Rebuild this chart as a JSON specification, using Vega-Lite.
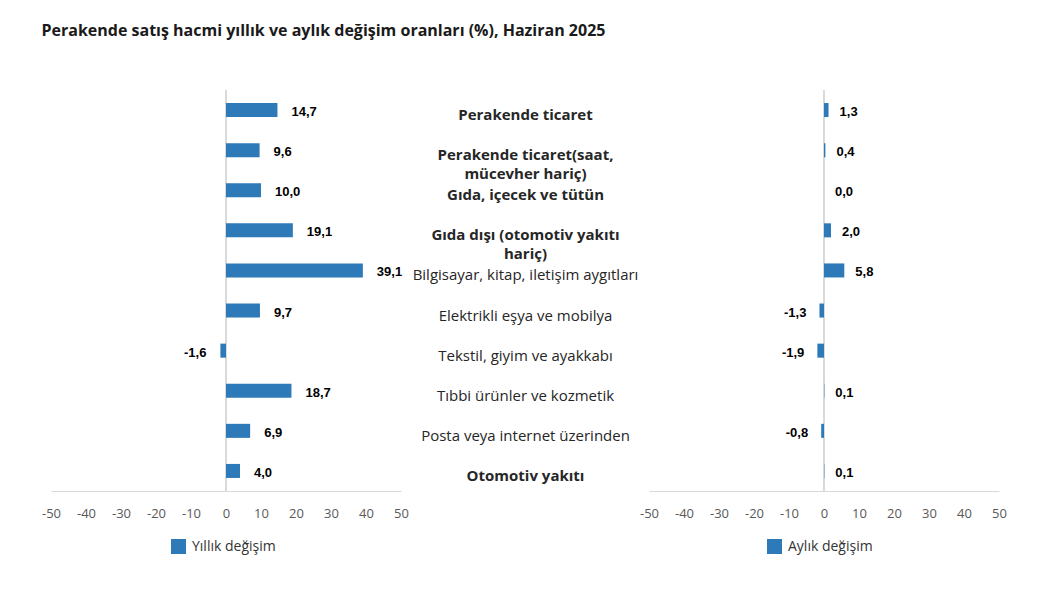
{
  "$schema": "https://vega.github.io/schema/vega-lite/v6.json",
  "padding": {"left": 41, "top": 22, "right": 20, "bottom": 10},
  "background": "white",
  "title": {"text": "Perakende satış hacmi yıllık ve aylık değişim oranları (%), Haziran 2025", "anchor": "start", "fontSize": 16, "font": "Open Sans", "fontWeight": "bold", "color": "#1a1a1a", "offset": 51},
  "data": {"values": [
    {"kategori": "Perakende ticaret", "yillik": 14.7, "aylik": 1.3},
    {"kategori": "Perakende ticaret(saat, mücevher hariç)", "yillik": 9.6, "aylik": 0.4},
    {"kategori": "Gıda, içecek ve tütün", "yillik": 10.0, "aylik": 0.0},
    {"kategori": "Gıda dışı (otomotiv yakıtı hariç)", "yillik": 19.1, "aylik": 2.0},
    {"kategori": "Bilgisayar, kitap, iletişim aygıtları", "yillik": 39.1, "aylik": 5.8},
    {"kategori": "Elektrikli eşya ve mobilya", "yillik": 9.7, "aylik": -1.3},
    {"kategori": "Tekstil, giyim ve ayakkabı", "yillik": -1.6, "aylik": -1.9},
    {"kategori": "Tıbbi ürünler ve kozmetik", "yillik": 18.7, "aylik": 0.1},
    {"kategori": "Posta veya internet üzerinden", "yillik": 6.9, "aylik": -0.8},
    {"kategori": "Otomotiv yakıtı", "yillik": 4.0, "aylik": 0.1}
  ]},
  "spacing": 248,
  "bounds": "flush",
  "resolve": {"scale": {"color": "independent", "x": "independent"}, "legend": {"color": "independent"}},
  "hconcat": [
    {
      "width": 350,
      "height": 401,
      "layer": [
        {
          "mark": {"type": "rule", "color": "#d9d9d9", "strokeWidth": 1},
          "encoding": {"x": {"datum": 0, "type": "quantitative", "scale": {"domain": [-50, 50], "nice": false},
              "axis": {"title": null, "values": [-50, -40, -30, -20, -10, 0, 10, 20, 30, 40, 50], "tickCount": 11, "labelOverlap": false, "labelSeparation": -50, "labelFlush": false, "labelBound": false, "ticks": false, "grid": false, "domainColor": "#d9d9d9", "labelColor": "#595959", "labelFontSize": 13, "labelFont": "Open Sans", "labelPadding": 16}}}
        },
        {
          "mark": {"type": "bar", "color": "#2E7AB8"},
          "encoding": {
            "y": {"field": "kategori", "type": "nominal", "sort": null, "scale": {"paddingInner": 0.65, "paddingOuter": 0.325},
              "axis": {"orient": "right", "title": null, "ticks": false, "domain": false, "labelAlign": "center", "labelPadding": 124, "labelFontSize": 15, "labelFont": "Open Sans", "labelColor": "#262626", "labelBaseline": "top", "labelOffset": -2, "labelLineHeight": 19, "labelLimit": 400, "labelOverlap": false,
                "labelExpr": "datum.value == 'Perakende ticaret(saat, mücevher hariç)' ? ['Perakende ticaret(saat,', 'mücevher hariç)'] : datum.value == 'Gıda dışı (otomotiv yakıtı hariç)' ? ['Gıda dışı (otomotiv yakıtı', 'hariç)'] : datum.label",
                "labelFontWeight": {"condition": {"test": "indexof(['Perakende ticaret','Perakende ticaret(saat, mücevher hariç)','Gıda, içecek ve tütün','Gıda dışı (otomotiv yakıtı hariç)','Otomotiv yakıtı'], datum.value) >= 0", "value": "bold"}, "value": "normal"}}},
            "x": {"field": "yillik", "type": "quantitative"},
            "color": {"datum": "Yıllık değişim", "type": "nominal", "scale": {"range": ["#2E7AB8"]},
              "legend": {"orient": "none", "legendX": 120, "legendY": 449, "title": null, "symbolType": "square", "symbolSize": 225, "symbolStrokeWidth": 0, "labelFontSize": 14, "labelFont": "Open Sans", "labelColor": "#333333", "labelOffset": 6}}
          }
        },
        {
          "mark": {"type": "text", "font": "Liberation Sans", "fontWeight": "bold", "fontSize": 13, "color": "#000000", "dy": 2,
            "align": {"expr": "datum.yillik < 0 ? 'right' : 'left'"}, "dx": {"expr": "datum.yillik < 0 ? -14 : 14"}},
          "encoding": {
            "y": {"field": "kategori", "type": "nominal", "sort": null},
            "x": {"field": "yillik", "type": "quantitative"},
            "text": {"field": "yillik", "type": "quantitative", "format": ".1f"}
          }
        }
      ]
    },
    {
      "width": 350,
      "height": 401,
      "layer": [
        {
          "mark": {"type": "rule", "color": "#d9d9d9", "strokeWidth": 1},
          "encoding": {"x": {"datum": 0, "type": "quantitative", "scale": {"domain": [-50, 50], "nice": false},
              "axis": {"title": null, "values": [-50, -40, -30, -20, -10, 0, 10, 20, 30, 40, 50], "tickCount": 11, "labelOverlap": false, "labelSeparation": -50, "labelFlush": false, "labelBound": false, "ticks": false, "grid": false, "domainColor": "#d9d9d9", "labelColor": "#595959", "labelFontSize": 13, "labelFont": "Open Sans", "labelPadding": 16}}}
        },
        {
          "mark": {"type": "bar", "color": "#2E7AB8"},
          "encoding": {
            "y": {"field": "kategori", "type": "nominal", "sort": null, "scale": {"paddingInner": 0.65, "paddingOuter": 0.325}, "axis": null},
            "x": {"field": "aylik", "type": "quantitative"},
            "color": {"datum": "Aylık değişim", "type": "nominal", "scale": {"range": ["#2E7AB8"]},
              "legend": {"orient": "none", "legendX": 118, "legendY": 449, "title": null, "symbolType": "square", "symbolSize": 225, "symbolStrokeWidth": 0, "labelFontSize": 14, "labelFont": "Open Sans", "labelColor": "#333333", "labelOffset": 6}}
          }
        },
        {
          "mark": {"type": "text", "font": "Liberation Sans", "fontWeight": "bold", "fontSize": 13, "color": "#000000", "dy": 2,
            "align": {"expr": "datum.aylik < 0 ? 'right' : 'left'"}, "dx": {"expr": "datum.aylik < 0 ? -13 : 11"}},
          "encoding": {
            "y": {"field": "kategori", "type": "nominal", "sort": null},
            "x": {"field": "aylik", "type": "quantitative"},
            "text": {"field": "aylik", "type": "quantitative", "format": ".1f"}
          }
        }
      ]
    }
  ],
  "config": {
    "view": {"stroke": null},
    "axis": {"labelOverlap": false},
    "locale": {"number": {"decimal": ",", "thousands": ".", "grouping": [3], "currency": ["", "₺"], "minus": "-"}}
  }
}
